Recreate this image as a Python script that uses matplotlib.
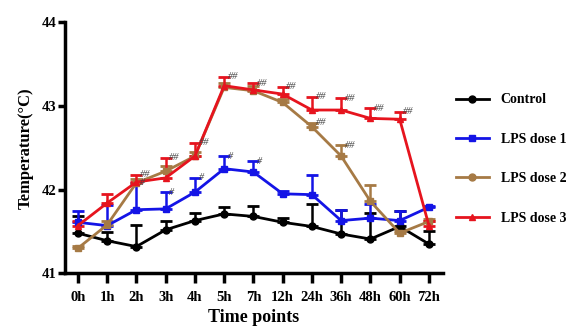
import matplotlib
matplotlib.use('Agg')
import matplotlib.pyplot as plt
from matplotlib.lines import Line2D
import numpy as np

plt.rcParams['font.family'] = 'Liberation Serif'
plt.rcParams['font.weight'] = 'bold'

tempos = ['0h', '1h', '2h', '3h', '4h', '5h', '7h', '12h', '24h', '36h', '48h', '60h', '72h']

controle = [41.48, 41.39, 41.32, 41.52, 41.63, 41.71, 41.68, 41.61, 41.56, 41.47, 41.41, 41.56, 41.35]
controle_err = [0.2, 0.11, 0.26, 0.1, 0.09, 0.08, 0.12, 0.05, 0.27, 0.29, 0.31, 0.18, 0.16]

dose1 = [41.61, 41.57, 41.76, 41.77, 41.97, 42.25, 42.21, 41.95, 41.94, 41.63, 41.66, 41.63, 41.79]
dose1_err = [0.14, 0.25, 0.32, 0.2, 0.17, 0.15, 0.13, 0.03, 0.23, 0.13, 0.17, 0.11, 0.02]

dose2 = [41.30, 41.58, 42.08, 42.22, 42.40, 43.22, 43.18, 43.04, 42.75, 42.40, 41.86, 41.48, 41.62]
dose2_err = [0.03, 0.05, 0.05, 0.06, 0.05, 0.05, 0.06, 0.04, 0.05, 0.13, 0.19, 0.03, 0.03]

dose3 = [41.57, 41.84, 42.09, 42.14, 42.40, 43.24, 43.19, 43.14, 42.95, 42.95, 42.85, 42.84, 41.57]
dose3_err = [0.05, 0.11, 0.09, 0.24, 0.16, 0.11, 0.08, 0.09, 0.16, 0.14, 0.12, 0.09, 0.05]

# marcas de significancia: (indice, serie, texto)
marcas = [(2, 'd1', '#'), (3, 'd1', '#'), (4, 'd1', '#'), (5, 'd1', '#'), (6, 'd1', '#'),
          (2, 'd3', '##'), (3, 'd3', '##'), (4, 'd3', '##'), (5, 'd3', '##'), (6, 'd3', '##'),
          (7, 'd3', '##'), (8, 'd3', '##'), (9, 'd3', '##'), (10, 'd3', '##'), (11, 'd3', '##'),
          (8, 'd2', '##'), (9, 'd2', '##')]

fig = plt.figure(figsize=(5.71, 3.29), dpi=100)
ax = fig.add_axes([65 / 571, 0.169, (443 - 65) / 571, 0.933 - 0.169])

x = np.arange(len(tempos))
series = [
    ('Control', controle, controle_err, 'black', 'o', 'ctl'),
    ('LPS dose 1', dose1, dose1_err, '#1414e6', 's', 'd1'),
    ('LPS dose 2', dose2, dose2_err, '#a67a45', 's', 'd2'),
    ('LPS dose 3', dose3, dose3_err, '#e6141e', '^', 'd3'),
]
topos = {}
alcas = []
for nome, vals, err, cor, mk, chave in series:
    vals = np.array(vals)
    err = np.array(err)
    ax.errorbar(x, vals, yerr=[np.zeros_like(err), err], color=cor, marker=mk,
                markersize=5, linewidth=2, elinewidth=1.8, capsize=4, capthick=2)
    topos[chave] = vals + err
    alcas.append(Line2D([], [], color=cor, marker=mk if chave != 'd2' else 'o',
                        markersize=5, linewidth=2, label=nome))

for i, chave, txt in marcas:
    ax.text(x[i] + 0.12, topos[chave][i], txt, fontsize=7.5, color='#444444',
            fontstyle='italic', fontweight='normal', ha='left', va='center')

ax.set_xlim(-0.44, 12.48)
ax.set_ylim(41, 44)
ax.set_yticks([41, 42, 43, 44])
ax.set_xticks(x)
ax.set_xticklabels(tempos)
ax.spines['top'].set_visible(False)
ax.spines['right'].set_visible(False)
ax.spines['left'].set_linewidth(2.5)
ax.spines['bottom'].set_linewidth(2.5)
ax.tick_params(axis='x', width=2.5, length=7, labelsize=10.5, pad=6)
ax.tick_params(axis='y', width=2.5, length=5, labelsize=10.5, pad=1)
ax.set_xlabel('Time points', fontsize=13, fontweight='bold', labelpad=3)
ax.set_ylabel('Temperature(°C)', fontsize=12, fontweight='bold', labelpad=6)

ax.legend(handles=alcas, loc='center left', bbox_to_anchor=(1.0, 0.455), frameon=False,
          labelspacing=1.9, handlelength=2.4, handletextpad=0.85,
          prop={'weight': 'bold', 'size': 10})

fig.savefig('out.png', dpi=100)
